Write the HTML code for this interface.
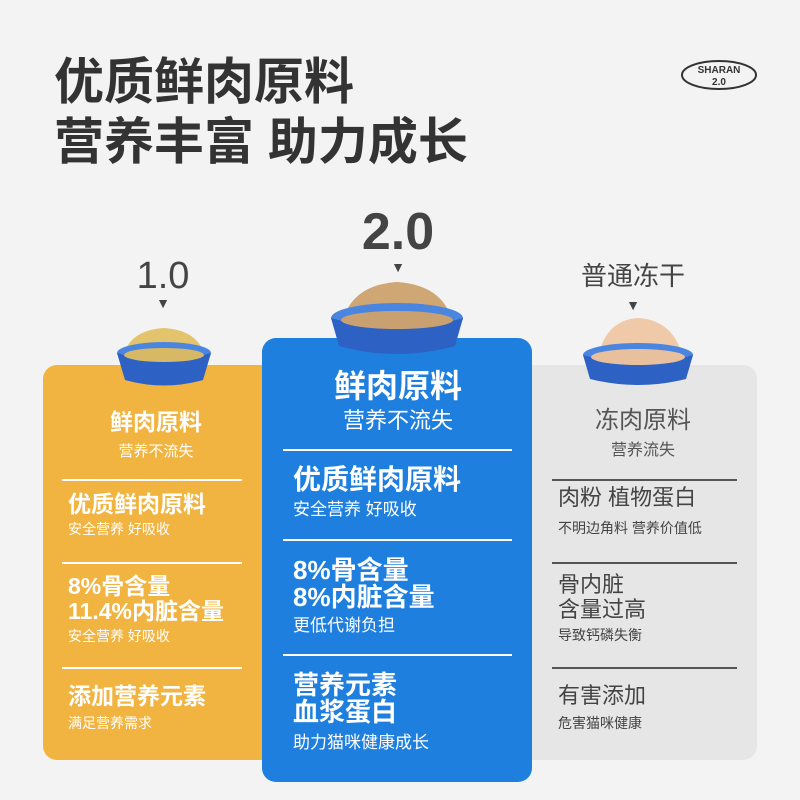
<!DOCTYPE html>
<html><head><meta charset="utf-8"><style>
body{margin:0;width:800px;height:800px;background:#f3f3f3;position:relative;overflow:hidden;font-family:"Liberation Sans","Noto Sans CJK SC",sans-serif}
.a{position:absolute;white-space:nowrap;line-height:1}
.c{transform:translateX(-50%)}
.b{font-weight:bold}
.card{position:absolute}
.ln{position:absolute;height:2px}
</style></head><body>
<div class="a b" style="left:54px;top:57px;font-size:50px;color:#333">优质鲜肉原料</div>
<div class="a b" style="left:54px;top:117px;font-size:50px;color:#333">营养丰富 助力成长</div>
<svg class="a" style="left:680px;top:58px" width="80" height="34"><ellipse cx="39" cy="17" rx="37" ry="14" fill="none" stroke="#333" stroke-width="2"/><text x="39" y="15" font-size="10" font-weight="bold" text-anchor="middle" fill="#333" font-family="Liberation Sans">SHARAN</text><text x="39" y="27" font-size="10" font-weight="bold" text-anchor="middle" fill="#333" font-family="Liberation Sans">2.0</text></svg>

<div class="card" style="left:43px;top:365px;width:240px;height:395px;background:#f2b440;border-radius:14px"></div>
<div class="card" style="left:510px;top:365px;width:247px;height:395px;background:#e6e6e6;border-radius:14px"></div>
<div class="card" style="left:262px;top:338px;width:270px;height:444px;background:#1e7fdf;border-radius:14px"></div>

<div class="a c" style="left:163px;top:257px;font-size:38px;color:#444">1.0</div>
<div class="a c" style="left:163px;top:296px;font-size:14px;color:#444">▼</div>
<div class="a c b" style="left:398px;top:206px;font-size:52px;color:#444">2.0</div>
<div class="a c" style="left:398px;top:260px;font-size:14px;color:#444">▼</div>
<div class="a c" style="left:633px;top:263px;font-size:26px;color:#444">普通冻干</div>
<div class="a c" style="left:633px;top:298px;font-size:14px;color:#444">▼</div>

<svg class="a" style="left:102px;top:325px" width="125" height="65">
<path d="M22 28 Q30 5 62 3 Q94 5 102 28Z" fill="#e3c46c"/><ellipse cx="62" cy="28" rx="47" ry="11" fill="#4a86e0"/><path d="M15 28 L23 55 Q62 66 101 55 L109 28 Q62 42 15 28Z" fill="#2d62c4"/><ellipse cx="62" cy="30" rx="40" ry="7" fill="#d7b865"/></svg>
<svg class="a" style="left:325px;top:280px" width="145" height="80">
<path d="M18 40 Q28 5 72 2 Q117 5 127 40Z" fill="#cfa774"/><ellipse cx="72" cy="38" rx="66" ry="15" fill="#4a86e0"/><path d="M6 38 L14 66 Q72 82 130 66 L138 38 Q72 58 6 38Z" fill="#2d62c4"/><ellipse cx="72" cy="40" rx="56" ry="9" fill="#c9a170"/></svg>
<svg class="a" style="left:578px;top:315px" width="120" height="75">
<path d="M20 42 Q28 5 60 3 Q95 5 105 42Z" fill="#efc9a8"/><ellipse cx="60" cy="40" rx="55" ry="12" fill="#4a86e0"/><path d="M5 40 L12 64 Q60 76 108 64 L115 40 Q60 56 5 40Z" fill="#2d62c4"/><ellipse cx="60" cy="42" rx="47" ry="8" fill="#e8c09d"/></svg>

<div class="a c b" style="left:156px;top:411px;font-size:23px;color:#fff">鲜肉原料</div>
<div class="a c" style="left:156px;top:444px;font-size:15px;color:#fff">营养不流失</div>
<div class="ln" style="left:62px;width:180px;top:479px;background:#fff"></div>
<div class="ln" style="left:62px;width:180px;top:562px;background:#fff"></div>
<div class="ln" style="left:62px;width:180px;top:667px;background:#fff"></div>
<div class="a b" style="left:68px;top:493px;font-size:23px;color:#fff">优质鲜肉原料</div>
<div class="a" style="left:68px;top:522px;font-size:14px;color:#fff">安全营养 好吸收</div>
<div class="a b" style="left:68px;top:575px;font-size:23px;color:#fff">8%骨含量</div>
<div class="a b" style="left:68px;top:600px;font-size:23px;color:#fff">11.4%内脏含量</div>
<div class="a" style="left:68px;top:629px;font-size:14px;color:#fff">安全营养 好吸收</div>
<div class="a b" style="left:68px;top:685px;font-size:23px;color:#fff">添加营养元素</div>
<div class="a" style="left:68px;top:716px;font-size:14px;color:#fff">满足营养需求</div>

<div class="a c b" style="left:398px;top:370px;font-size:32px;color:#fff">鲜肉原料</div>
<div class="a c" style="left:398px;top:410px;font-size:22px;color:#fff">营养不流失</div>
<div class="ln" style="left:283px;width:229px;top:449px;background:#fff"></div>
<div class="ln" style="left:283px;width:229px;top:539px;background:#fff"></div>
<div class="ln" style="left:283px;width:229px;top:654px;background:#fff"></div>
<div class="a b" style="left:293px;top:466px;font-size:28px;color:#fff">优质鲜肉原料</div>
<div class="a" style="left:293px;top:501px;font-size:17px;color:#fff">安全营养 好吸收</div>
<div class="a b" style="left:293px;top:557px;font-size:26px;color:#fff">8%骨含量</div>
<div class="a b" style="left:293px;top:584px;font-size:26px;color:#fff">8%内脏含量</div>
<div class="a" style="left:293px;top:617px;font-size:17px;color:#fff">更低代谢负担</div>
<div class="a b" style="left:293px;top:672px;font-size:26px;color:#fff">营养元素</div>
<div class="a b" style="left:293px;top:699px;font-size:26px;color:#fff">血浆蛋白</div>
<div class="a" style="left:293px;top:734px;font-size:17px;color:#fff">助力猫咪健康成长</div>

<div class="a c" style="left:643px;top:409px;font-size:24px;color:#555">冻肉原料</div>
<div class="a c" style="left:643px;top:443px;font-size:16px;color:#555">营养流失</div>
<div class="ln" style="left:552px;width:185px;top:479px;background:#555"></div>
<div class="ln" style="left:552px;width:185px;top:562px;background:#555"></div>
<div class="ln" style="left:552px;width:185px;top:667px;background:#555"></div>
<div class="a" style="left:558px;top:487px;font-size:22px;color:#444">肉粉 植物蛋白</div>
<div class="a" style="left:558px;top:521px;font-size:14px;color:#444">不明边角料 营养价值低</div>
<div class="a" style="left:558px;top:574px;font-size:22px;color:#444">骨内脏</div>
<div class="a" style="left:558px;top:599px;font-size:22px;color:#444">含量过高</div>
<div class="a" style="left:558px;top:628px;font-size:14px;color:#444">导致钙磷失衡</div>
<div class="a" style="left:558px;top:685px;font-size:22px;color:#444">有害添加</div>
<div class="a" style="left:558px;top:716px;font-size:14px;color:#444">危害猫咪健康</div>
</body></html>
